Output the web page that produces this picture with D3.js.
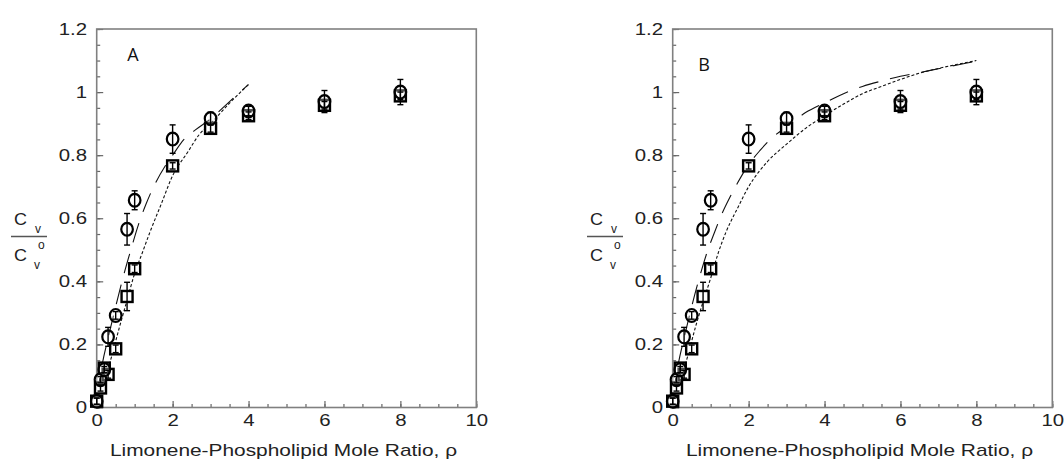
<!DOCTYPE html>
<html>
<head>
<meta charset="utf-8">
<script src="https://cdn.jsdelivr.net/npm/d3@7"></script>
<style>
  body { margin: 0; background: white; }
  svg { display: block; font-family: "Liberation Sans", Arial, sans-serif; }
</style>
</head>
<body>
<script>
//Variables
    const width = 1064;
    const height = 464;
    const plotW = 379.6;
    const plotTop = 29;
    const plotBottom = 407.5;
    const stretch = 1.2;   // the source image is a bit wider than tall

//Data
    const circleX   = [0, 0.1, 0.2, 0.3, 0.5, 0.8, 1, 2, 3, 4, 6, 8];
    const circleY   = [0.02, 0.088, 0.12, 0.224, 0.292, 0.565, 0.657, 0.851, 0.916, 0.94, 0.97, 1.0];
    const circleErr = [0.01, 0.01, 0.01, 0.03, 0.012, 0.05, 0.03, 0.045, 0.02, 0.015, 0.035, 0.04];

    const squareX   = [0, 0.1, 0.2, 0.3, 0.5, 0.8, 1, 2, 3, 4, 6, 8];
    const squareY   = [0.02, 0.062, 0.125, 0.105, 0.186, 0.352, 0.44, 0.766, 0.885, 0.925, 0.958, 0.988];
    const squareErr = [0.01, 0.01, 0.015, 0.012, 0.012, 0.045, 0.012, 0.01, 0.012, 0.012, 0.012, 0.012];

    // fitted curves, panel A
    const dashAX = [0, 0.15, 0.3, 0.5, 0.7, 0.9, 1.1, 1.3, 1.5, 1.8, 2.0, 2.3, 2.6, 3.0, 3.5, 4.0];
    const dashAY = [0.03, 0.14, 0.22, 0.32, 0.415, 0.5, 0.58, 0.645, 0.7, 0.765, 0.8, 0.85, 0.88, 0.915, 0.97, 1.024];
    const dotAX  = [0, 0.2, 0.4, 0.6, 0.8, 1.0, 1.2, 1.4, 1.7, 2.0, 2.4, 2.7, 3.0, 3.5, 4.0];
    const dotAY  = [0, 0.08, 0.165, 0.255, 0.34, 0.425, 0.49, 0.555, 0.645, 0.735, 0.81, 0.865, 0.9, 0.965, 1.024];

    // fitted curves, panel B
    const dashBX = [0, 0.15, 0.3, 0.5, 0.7, 0.9, 1.1, 1.3, 1.5, 1.7, 2.0, 2.3, 2.6, 3.0, 3.5, 4.0, 4.5, 5.0, 5.5, 6.0, 6.5, 7.0, 7.5, 8.0];
    const dashBY = [0.03, 0.14, 0.22, 0.32, 0.41, 0.49, 0.555, 0.615, 0.665, 0.71, 0.77, 0.815, 0.853, 0.89, 0.935, 0.966, 0.995, 1.018, 1.035, 1.05, 1.062, 1.074, 1.086, 1.098];
    const dotBX  = [0, 0.2, 0.4, 0.6, 0.8, 1.0, 1.2, 1.4, 1.7, 2.0, 2.5, 3.0, 3.5, 4.0, 4.5, 5.0, 5.5, 6.0, 6.5, 7.0, 7.5, 8.0];
    const dotBY  = [0, 0.08, 0.165, 0.255, 0.335, 0.41, 0.49, 0.555, 0.63, 0.7, 0.78, 0.835, 0.885, 0.925, 0.962, 0.995, 1.018, 1.04, 1.06, 1.075, 1.088, 1.1];

//Ticks
    const xTicks = [0, 2, 4, 6, 8, 10];
    const yTicks = [0, 0.2, 0.4, 0.6, 0.8, 1, 1.2];
    const xMinor = d3.range(0, 10.01, 0.5);
    const yMinor = d3.range(0, 1.201, 0.05);

    const svg = d3.select("body")
        .append("svg")
        .attr("width", width)
        .attr("height", height);

//Panel drawing
    const drawPanel = (left, letter, letterPos, dash, dot) => {
        const g = svg.append("g");

        const xScale = d3.scaleLinear().domain([0, 10]).range([left, left + plotW]);
        const yScale = d3.scaleLinear().domain([0, 1.2]).range([plotBottom, plotTop]);

//Minor ticks
        g.append("g")
            .attr("transform", `translate(0, ${plotBottom})`)
            .call(d3.axisBottom(xScale).tickValues(xMinor).tickSize(-3.5).tickFormat(""))
            .call(a => a.select(".domain").remove());
        g.append("g")
            .attr("transform", `translate(${left}, 0)`)
            .call(d3.axisLeft(yScale).tickValues(yMinor).tickSize(-3.5).tickFormat(""))
            .call(a => a.select(".domain").remove());

//Major ticks + labels
        g.append("g")
            .attr("transform", `translate(0, ${plotBottom})`)
            .call(d3.axisBottom(xScale).tickValues(xTicks).tickSize(-6.5).tickPadding(6).tickFormat(d => d))
            .call(a => a.select(".domain").remove());
        g.append("g")
            .attr("transform", `translate(${left}, 0)`)
            .call(d3.axisLeft(yScale).tickValues(yTicks).tickSize(-6.5).tickPadding(8).tickFormat(d => d))
            .call(a => a.select(".domain").remove());

        g.selectAll(".tick line").attr("stroke", "#666").attr("stroke-width", 1.2);
        g.selectAll(".tick text")
            .attr("fill", "#222")
            .attr("transform", `scale(${stretch},1)`)
            .style("font-size", "17px")
            .style("font-family", "'Liberation Sans', Arial, sans-serif");

//Frame
        g.append("rect")
            .attr("x", left)
            .attr("y", plotTop)
            .attr("width", plotW)
            .attr("height", plotBottom - plotTop)
            .attr("fill", "none")
            .attr("stroke", "#808080")
            .attr("stroke-width", 1.6);

//Curves
        const line = d3.line()
            .x(d => xScale(d[0]))
            .y(d => yScale(d[1]))
            .curve(d3.curveMonotoneX);

        g.append("path")
            .datum(d3.zip(dash[0], dash[1]))
            .attr("d", line)
            .attr("fill", "none")
            .attr("stroke", "#111")
            .attr("stroke-width", 1.1)
            .attr("stroke-dasharray", "20,12");

        g.append("path")
            .datum(d3.zip(dot[0], dot[1]))
            .attr("d", line)
            .attr("fill", "none")
            .attr("stroke", "#111")
            .attr("stroke-width", 1.1)
            .attr("stroke-dasharray", "3,2");

//Markers
        const sq = d3.zip(squareX, squareY, squareErr);
        const ci = d3.zip(circleX, circleY, circleErr);

        g.selectAll(".sq")
            .data(sq)
            .enter()
            .append("rect")
            .attr("class", "sq")
            .attr("x", d => xScale(d[0]) - 5.5)
            .attr("y", d => yScale(d[1]) - 5.5)
            .attr("width", 11)
            .attr("height", 11)
            .attr("fill", "white")
            .attr("stroke", "black")
            .attr("stroke-width", 2.4);

        g.selectAll(".ci")
            .data(ci)
            .enter()
            .append("ellipse")
            .attr("class", "ci")
            .attr("cx", d => xScale(d[0]))
            .attr("cy", d => yScale(d[1]))
            .attr("rx", 5.8)
            .attr("ry", 6.4)
            .attr("fill", "white")
            .attr("fill-opacity", 0.3)
            .attr("stroke", "black")
            .attr("stroke-width", 2.2);

//Error bars
        const errBars = sq.concat(ci);
        const eb = g.selectAll(".eb")
            .data(errBars)
            .enter()
            .append("g")
            .attr("class", "eb")
            .attr("stroke", "black")
            .attr("stroke-width", 1.4);
        eb.append("line")
            .attr("x1", d => xScale(d[0])).attr("x2", d => xScale(d[0]))
            .attr("y1", d => yScale(d[1] - d[2])).attr("y2", d => yScale(d[1] + d[2]));
        eb.append("line")
            .attr("x1", d => xScale(d[0]) - 3).attr("x2", d => xScale(d[0]) + 3)
            .attr("y1", d => yScale(d[1] + d[2])).attr("y2", d => yScale(d[1] + d[2]));
        eb.append("line")
            .attr("x1", d => xScale(d[0]) - 3).attr("x2", d => xScale(d[0]) + 3)
            .attr("y1", d => yScale(d[1] - d[2])).attr("y2", d => yScale(d[1] - d[2]));

//Panel letter
        g.append("text")
            .text(letter)
            .attr("x", left + letterPos[0])
            .attr("y", letterPos[1])
            .style("font-family", "'Open Sans', 'Noto Sans', sans-serif")
            .style("font-size", "18px")
            .attr("fill", "#111");

//X label
        g.append("text")
            .text("Limonene-Phospholipid Mole Ratio, \u03c1")
            .attr("x", left + 13.3)
            .attr("y", 456)
            .attr("textLength", 347)
            .attr("lengthAdjust", "spacingAndGlyphs")
            .style("font-size", "17px")
            .attr("fill", "#222");

//Y label (fraction)
        const yl = g.append("g").attr("transform", `translate(${left - 96.7}, 0)`).attr("fill", "#222");
        yl.append("text").text("C").attr("x", 14).attr("y", 224.5).attr("textLength", 13).attr("lengthAdjust", "spacingAndGlyphs").style("font-size", "16px");
        yl.append("text").text("v").attr("x", 35).attr("y", 232.5).style("font-size", "12px");
        yl.append("line")
            .attr("x1", 11).attr("x2", 47)
            .attr("y1", 236.5).attr("y2", 236.5)
            .attr("stroke", "#555").attr("stroke-width", 1.3);
        yl.append("text").text("C").attr("x", 14).attr("y", 260.5).attr("textLength", 13).attr("lengthAdjust", "spacingAndGlyphs").style("font-size", "16px");
        yl.append("text").text("o").attr("x", 38).attr("y", 249).style("font-size", "12px");
        yl.append("text").text("v").attr("x", 34).attr("y", 268.5).style("font-size", "12px");
    };

    drawPanel(96.7, "A", [30.5, 61], [dashAX, dashAY], [dotAX, dotAY]);
    drawPanel(672.7, "B", [25.5, 70.5], [dashBX, dashBY], [dotBX, dotBY]);
</script>
</body>
</html>
